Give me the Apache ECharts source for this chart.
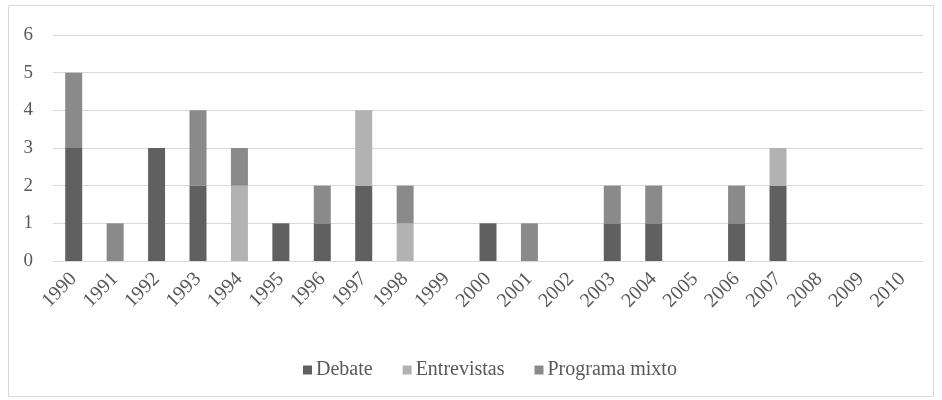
<!DOCTYPE html>
<html><head><meta charset="utf-8">
<script src="https://cdn.jsdelivr.net/npm/echarts@6/dist/echarts.min.js"></script>
<style>html,body{margin:0;padding:0;background:#fff}#c{width:942px;height:400px}</style>
</head><body><div id="c"></div>
<script>
const years = ['1990','1991','1992','1993','1994','1995','1996','1997','1998','1999','2000','2001','2002','2003','2004','2005','2006','2007','2008','2009','2010'];
const debate =        [3,0,3,2,0,1,1,2,0,0,1,0,0,1,1,0,1,2,0,0,0];
const entrevistas =   [0,0,0,0,2,0,0,2,1,0,0,0,0,0,0,0,0,1,0,0,0];
const programaMixto = [2,1,0,2,1,0,1,0,1,0,0,1,0,1,1,0,1,0,0,0,0];
const yTicks = [0,1,2,3,4,5,6];

const font = 'Liberation Serif';
const chart = echarts.init(document.getElementById('c'));
function ser(name, data, color){
  return {name, type:'bar', stack:'t', data: data.map(v=>v===0?null:v), barWidth:17,
    itemStyle:{color}, emphasis:{disabled:true}};
}
chart.setOption({
  animation:false,
  graphic:[{type:'rect', shape:{x:8.5,y:5.5,width:925,height:391}, style:{fill:'none',stroke:'#d9d9d9',lineWidth:1}}],
  grid:{left:53,right:19,top:35,bottom:139},
  legend:{top:355,left:298,itemWidth:9,itemHeight:9,itemGap:30,icon:'rect',
    textStyle:{fontFamily:font,fontSize:20,color:'#595959',padding:[0,0,0,-1]},
    data:['Debate','Entrevistas','Programa mixto']},
  xAxis:{type:'category',data:years,
    axisLine:{lineStyle:{color:'#d9d9d9',width:1}},axisTick:{show:false},
    axisLabel:{rotate:45,interval:0,fontFamily:font,fontSize:20,color:'#595959',margin:15}},
  yAxis:{type:'value',min:0,max:6,interval:1,
    axisLine:{show:false},axisTick:{show:false},
    splitLine:{lineStyle:{color:'#d9d9d9',width:1}},
    axisLabel:{fontFamily:font,fontSize:19,color:'#595959',margin:20,
      formatter:v=>yTicks.includes(v)?String(v):''}},
  series:[ser('Debate',debate,'#606060'),ser('Entrevistas',entrevistas,'#b2b2b2'),ser('Programa mixto',programaMixto,'#8a8a8a')]
});
</script></body></html>
